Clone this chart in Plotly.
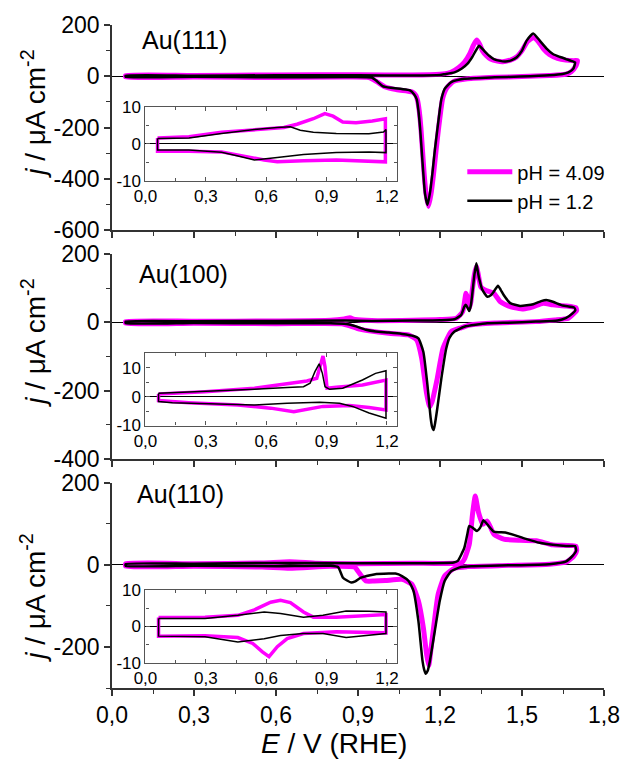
import plotly.graph_objects as go

# ---------------- DATA ----------------
series_names = ["pH = 4.09", "pH = 1.2"]
panel_labels = ["Au(111)", "Au(100)", "Au(110)"]

# Au(111) main CV (E / V, j / uA cm-2)
p1_mag_E = [0.05, 0.3, 0.6, 0.9, 1.1, 1.2, 1.23, 1.253, 1.27, 1.289, 1.31, 1.322, 1.334, 1.345, 1.355, 1.37, 1.385, 1.41, 1.43, 1.46, 1.48, 1.50, 1.52, 1.541, 1.56, 1.58, 1.60, 1.63, 1.66, 1.69, 1.703,
            1.697, 1.68, 1.66, 1.6, 1.5, 1.4, 1.3, 1.25, 1.225, 1.21, 1.203, 1.194, 1.185, 1.176, 1.167, 1.158, 1.149, 1.142, 1.136, 1.130, 1.124, 1.118, 1.112, 1.10, 1.08, 1.04, 1.0, 0.97, 0.94, 0.85, 0.6, 0.3, 0.05, 0.05]
p1_mag_j = [3, 3, 5, 6, 5, 8, 12, 23, 35, 54, 90, 120, 141, 125, 100, 80, 67, 59, 57, 64, 75, 100, 135, 151, 135, 105, 85, 70, 63, 61, 61,
            40, 18, 8, 3, -1, -4, -10, -20, -45, -85, -133, -210, -295, -385, -460, -508, -460, -380, -290, -200, -135, -95, -75, -62, -58, -52, -42, -22, -5, -3, -5, -3, -3, 3]
p1_blk_E = [0.05, 0.3, 0.6, 0.9, 1.1, 1.2, 1.217, 1.253, 1.28, 1.30, 1.318, 1.331, 1.343, 1.361, 1.38, 1.397, 1.42, 1.439, 1.46, 1.481, 1.50, 1.517, 1.541, 1.565, 1.59, 1.613, 1.64, 1.661, 1.68, 1.694,
            1.688, 1.67, 1.649, 1.60, 1.493, 1.40, 1.289, 1.241, 1.217, 1.205, 1.199, 1.19, 1.181, 1.172, 1.163, 1.154, 1.145, 1.139, 1.133, 1.127, 1.121, 1.115, 1.105, 1.09, 1.06, 1.02, 0.99, 0.97, 0.95, 0.85, 0.6, 0.3, 0.05, 0.05]
p1_blk_j = [2, 2, 4, 4, 3, 5, 8, 15, 30, 48, 75, 100, 119, 100, 80, 67, 60, 58, 62, 74, 100, 139, 167, 139, 108, 87, 75, 67, 60, 54,
            30, 15, 9, 4, -1, -4, -10, -23, -49, -90, -133, -210, -289, -380, -457, -502, -457, -380, -289, -200, -133, -90, -70, -55, -50, -45, -38, -20, -5, -3, -4, -2, -2, 2]

# Au(100) main CV
p2_mag_E = [0.05, 0.3, 0.6, 0.8, 0.85, 0.87, 0.89, 0.95, 1.1, 1.2, 1.26, 1.283, 1.295, 1.301, 1.307, 1.313, 1.319, 1.326, 1.333, 1.34, 1.349, 1.36, 1.373, 1.397, 1.421, 1.457, 1.505, 1.54, 1.577, 1.613, 1.661, 1.697,
            1.70, 1.69, 1.67, 1.62, 1.55, 1.4, 1.31, 1.277, 1.241, 1.211, 1.19, 1.171, 1.162, 1.15, 1.133, 1.115, 1.085, 1.013, 0.941, 0.905, 0.87, 0.84, 0.6, 0.3, 0.05, 0.05]
p2_mag_j = [2, 3, 4, 6, 10, 13, 8, 5, 6, 8, 12, 31, 85, 70, 41, 60, 100, 140, 163, 140, 104, 96, 92, 85, 60, 46, 39, 45, 56, 51, 48, 43,
            35, 26, 12, 7, 2, -2, -8, -16, -27, -76, -164, -232, -247, -203, -105, -52, -37, -32, -25, -20, -10, -4, -4, -3, -3, 2]
p2_blk_E = [0.05, 0.3, 0.6, 0.85, 0.95, 1.1, 1.2, 1.253, 1.277, 1.289, 1.295, 1.301, 1.307, 1.313, 1.319, 1.326, 1.333, 1.338, 1.343, 1.355, 1.373, 1.387, 1.397, 1.412, 1.422, 1.433, 1.457, 1.493, 1.541, 1.57, 1.589, 1.613, 1.649, 1.691,
            1.695, 1.685, 1.66, 1.63, 1.55, 1.45, 1.373, 1.289, 1.253, 1.235, 1.223, 1.205, 1.19, 1.182, 1.177, 1.171, 1.166, 1.154, 1.139, 1.121, 1.103, 1.061, 1.013, 0.965, 0.929, 0.893, 0.857, 0.80, 0.6, 0.3, 0.05, 0.05]
p2_blk_j = [2, 3, 4, 5, 4, 5, 6, 9, 21, 46, 51, 42, 33, 50, 90, 140, 173, 150, 129, 95, 75, 80, 90, 107, 95, 80, 56, 48, 53, 62, 65, 60, 49, 43,
            35, 26, 12, 5, 2, -1, -3, -13, -27, -45, -76, -164, -252, -295, -315, -305, -281, -183, -86, -47, -40, -34, -30, -27, -22, -12, -5, -3, -3, -2, -2, 2]

# Au(110) main CV
p3_mag_E = [0.05, 0.3, 0.55, 0.65, 0.75, 0.9, 1.1, 1.28, 1.289, 1.307, 1.319, 1.329, 1.341, 1.357, 1.373, 1.397, 1.433, 1.493, 1.553, 1.613, 1.697,
            1.70, 1.69, 1.665, 1.6, 1.45, 1.3, 1.253, 1.217, 1.193, 1.178, 1.166, 1.159, 1.151, 1.139, 1.121, 1.097, 1.061, 1.0, 0.96, 0.929, 0.905, 0.887, 0.8, 0.65, 0.55, 0.3, 0.05, 0.05]
p3_mag_j = [3, 3, 5, 8, 4, 3, 4, 6, 14, 50, 124, 168, 128, 99, 107, 75, 63, 60, 59, 49, 46,
            35, 22, 8, 2, -1, -4, -8, -27, -72, -145, -210, -246, -218, -153, -88, -47, -35, -38, -39, -39, -20, -5, -3, -8, -5, -3, -3, 3]
p3_blk_E = [0.05, 0.3, 0.6, 0.9, 1.1, 1.25, 1.265, 1.289, 1.30, 1.307, 1.319, 1.335, 1.347, 1.359, 1.373, 1.397, 1.439, 1.481, 1.517, 1.565, 1.613, 1.661, 1.694,
            1.698, 1.685, 1.66, 1.6, 1.45, 1.32, 1.277, 1.241, 1.217, 1.199, 1.181, 1.163, 1.155, 1.148, 1.142, 1.136, 1.121, 1.103, 1.085, 1.061, 1.037, 1.013, 0.959, 0.911, 0.89, 0.875, 0.86, 0.845, 0.827, 0.8, 0.6, 0.3, 0.05, 0.05]
p3_blk_j = [2, 3, 5, 4, 4, 6, 10, 42, 75, 95, 91, 83, 91, 109, 99, 81, 79, 71, 63, 54, 49, 46, 46,
            35, 22, 8, 2, -1, -3, -5, -15, -39, -88, -161, -234, -258, -265, -255, -234, -137, -63, -39, -27, -21, -21, -23, -31, -40, -43, -38, -31, -5, -2, -3, -2, -2, 2]

# Insets (0.05 - 1.2 V)
i1_mag_E = [0.06, 0.216, 0.378, 0.541, 0.688, 0.753, 0.834, 0.891, 0.932, 0.98, 1.046, 1.127, 1.192, 1.192, 1.111, 0.948, 0.785, 0.655, 0.59, 0.46, 0.378, 0.216, 0.06, 0.06]
i1_mag_j = [1.6, 1.9, 3.1, 3.9, 4.4, 5.3, 6.8, 8.2, 7.5, 5.9, 5.7, 6.2, 6.8, -4.9, -4.7, -4.4, -4.6, -4.9, -4.4, -3.1, -2.2, -2.0, -2.0, 1.6]
i1_blk_E = [0.06, 0.216, 0.378, 0.541, 0.655, 0.72, 0.769, 0.834, 0.948, 1.11, 1.183, 1.195, 1.195, 1.111, 0.948, 0.785, 0.655, 0.541, 0.46, 0.378, 0.216, 0.06, 0.06]
i1_blk_j = [1.4, 1.6, 2.8, 3.9, 4.4, 4.6, 3.7, 3.1, 2.8, 2.7, 3.2, 3.9, -2.4, -2.2, -2.4, -2.9, -3.7, -4.4, -3.3, -2.3, -1.7, -1.7, 1.4]

i2_mag_E = [0.065, 0.296, 0.541, 0.704, 0.802, 0.851, 0.869, 0.882, 0.892, 0.902, 0.948, 1.078, 1.195, 1.195, 1.111, 1.013, 0.882, 0.737, 0.622, 0.459, 0.215, 0.065, 0.065]
i2_mag_j = [0.9, 1.7, 2.9, 4.4, 5.4, 6.3, 11.5, 14.0, 10.3, 2.9, 3.2, 4.0, 5.7, -4.6, -3.8, -3.1, -3.4, -5.2, -4.0, -2.9, -2.1, -1.4, 0.9]
i2_blk_E = [0.065, 0.296, 0.541, 0.704, 0.785, 0.818, 0.842, 0.863, 0.879, 0.892, 0.915, 0.98, 1.078, 1.143, 1.195, 1.195, 1.111, 1.029, 0.964, 0.866, 0.704, 0.541, 0.296, 0.134, 0.065, 0.065]
i2_blk_j = [1.1, 1.7, 2.5, 3.1, 3.4, 4.6, 8.6, 11.3, 8.0, 3.4, 2.5, 2.9, 5.7, 8.0, 8.9, -7.5, -5.7, -3.4, -2.3, -2.0, -2.3, -2.9, -2.5, -2.1, -1.7, 1.1]

i3_mag_E = [0.065, 0.296, 0.459, 0.541, 0.622, 0.671, 0.72, 0.785, 0.834, 0.948, 1.195, 1.195, 0.948, 0.785, 0.704, 0.655, 0.614, 0.581, 0.533, 0.459, 0.296, 0.065, 0.065]
i3_mag_j = [2.4, 2.5, 3.0, 4.5, 6.6, 7.1, 6.5, 3.9, 2.5, 2.5, 3.2, -1.8, -1.5, -2.0, -3.4, -5.6, -8.3, -7.0, -4.7, -3.1, -2.6, -2.7, 2.4]
i3_blk_E = [0.065, 0.296, 0.459, 0.59, 0.671, 0.785, 0.882, 0.997, 1.111, 1.195, 1.195, 1.111, 0.997, 0.882, 0.785, 0.671, 0.59, 0.459, 0.296, 0.065, 0.065]
i3_blk_j = [2.1, 2.1, 3.0, 3.9, 3.5, 2.5, 3.0, 4.2, 4.1, 3.9, -2.0, -2.5, -3.1, -2.0, -2.0, -2.5, -3.4, -4.3, -2.9, -2.7, 2.1]

# tick labels
main_x_ticks = [0.0, 0.3, 0.6, 0.9, 1.2, 1.5, 1.8]
inset_x_ticks = [0.0, 0.3, 0.6, 0.9, 1.2]
p1_y_ticks = [200, 0, -200, -400, -600]
p2_y_ticks = [200, 0, -200, -400]
p3_y_ticks = [200, 0, -200]
inset_y_ticks = [10, 0, -10]

# ---------------- FIGURE ----------------
MAG = "#FF00FF"
BLK = "#000000"
FONT = "Arial, Liberation Sans, sans-serif"
AX = "#333333"

fig = go.Figure()

main_sets = [
    (p1_mag_E, p1_mag_j, p1_blk_E, p1_blk_j, "x", "y"),
    (p2_mag_E, p2_mag_j, p2_blk_E, p2_blk_j, "x2", "y2"),
    (p3_mag_E, p3_mag_j, p3_blk_E, p3_blk_j, "x3", "y3"),
]
for k, (mE, mj, bE, bj, xa, ya) in enumerate(main_sets):
    fig.add_trace(go.Scatter(x=mE, y=mj, mode="lines", xaxis=xa, yaxis=ya,
                             line=dict(color=MAG, width=5, shape="spline", smoothing=0.5),
                             name=series_names[0], showlegend=(k == 0)))
    fig.add_trace(go.Scatter(x=bE, y=bj, mode="lines", xaxis=xa, yaxis=ya,
                             line=dict(color=BLK, width=2.5, shape="spline", smoothing=0.5),
                             name=series_names[1], showlegend=(k == 0)))

inset_sets = [
    (i1_mag_E, i1_mag_j, i1_blk_E, i1_blk_j, "x4", "y4"),
    (i2_mag_E, i2_mag_j, i2_blk_E, i2_blk_j, "x5", "y5"),
    (i3_mag_E, i3_mag_j, i3_blk_E, i3_blk_j, "x6", "y6"),
]
for mE, mj, bE, bj, xa, ya in inset_sets:
    fig.add_trace(go.Scatter(x=mE, y=mj, mode="lines", xaxis=xa, yaxis=ya,
                             line=dict(color=MAG, width=3.5), showlegend=False))
    fig.add_trace(go.Scatter(x=bE, y=bj, mode="lines", xaxis=xa, yaxis=ya,
                             line=dict(color=BLK, width=1.5), showlegend=False))

def fmt(v):
    return str(v)

main_dom = [[0.6907, 1.0], [0.3453, 0.6547], [0.0, 0.3093]]
main_yr = [[-600, 200], [-400, 200], [-300, 200]]
main_yt = [p1_y_ticks, p2_y_ticks, p3_y_ticks]

layout = dict(
    width=632, height=759,
    margin=dict(l=112, r=20, t=22, b=71),
    paper_bgcolor="white", plot_bgcolor="white",
    separators=", ",
    font=dict(family=FONT, size=23, color="black"),
    legend=dict(x=0.712, y=0.808, xanchor="left", yanchor="top",
                font=dict(size=20), bgcolor="rgba(0,0,0,0)", itemwidth=45,
                tracegroupgap=0),
)

for i in range(3):
    xs = "xaxis" if i == 0 else f"xaxis{i+1}"
    ys = "yaxis" if i == 0 else f"yaxis{i+1}"
    yr = main_yr[i]
    layout[xs] = dict(domain=[0, 1], anchor="y" if i == 0 else f"y{i+1}",
                      range=[0, 1.8], showgrid=False, zeroline=False,
                      showline=True, linecolor=AX, linewidth=1.5,
                      ticks="outside", ticklen=6, tickwidth=1.5, tickcolor=AX,
                      tickvals=main_x_ticks, tickformat=".1f",
                      showticklabels=(i == 2),
                      minor=dict(tickvals=[0.15, 0.45, 0.75, 1.05, 1.35, 1.65],
                                 ticks="outside", ticklen=4, tickwidth=1.2, tickcolor=AX))
    layout[ys] = dict(domain=main_dom[i], anchor="x" if i == 0 else f"x{i+1}",
                      range=yr, showgrid=False,
                      zeroline=True, zerolinecolor="black", zerolinewidth=1,
                      showline=True, linecolor=AX, linewidth=1.5,
                      ticks="outside", ticklen=6, tickwidth=1.5, tickcolor=AX,
                      tickvals=main_yt[i], ticktext=[fmt(v) for v in main_yt[i]],
                      minor=dict(tickvals=[v for v in range(yr[0], yr[1] + 1, 100) if v % 200 != 0],
                                 ticks="outside", ticklen=4, tickwidth=1.2, tickcolor=AX))

inset_xdom = [0.068, 0.5794]
inset_ydom = [[0.7653, 0.8764], [0.3959, 0.5060], [0.0380, 0.1482]]
inset_yr = [[-10, 10], [-10, 15.2], [-10, 10]]
for k in range(3):
    n = k + 4
    yr = inset_yr[k]
    layout[f"xaxis{n}"] = dict(domain=inset_xdom, anchor=f"y{n}", range=[0, 1.25],
                               showgrid=False, zeroline=False,
                               showline=True, mirror="ticks", linecolor="#555555", linewidth=1.2,
                               ticks="inside", ticklen=4, tickwidth=1, tickcolor="#555555",
                               tickvals=inset_x_ticks, tickformat=".1f",
                               tickfont=dict(size=17),
                               minor=dict(tickvals=[0.15, 0.45, 0.75, 1.05],
                                          ticks="inside", ticklen=3, tickcolor="#555555"))
    layout[f"yaxis{n}"] = dict(domain=inset_ydom[k], anchor=f"x{n}", range=yr,
                               showgrid=False, zeroline=True, zerolinecolor="black", zerolinewidth=1.2,
                               showline=True, mirror="ticks", linecolor="#555555", linewidth=1.2,
                               ticks="inside", ticklen=4, tickwidth=1, tickcolor="#555555",
                               tickvals=inset_y_ticks, ticktext=[fmt(v) for v in inset_y_ticks],
                               tickfont=dict(size=17),
                               minor=dict(tickvals=[v for v in [-5, 5, 15] if v < yr[1]],
                                          ticks="inside", ticklen=3, tickcolor="#555555"))

annots = []
label_pos = [(0.056, 0.9775), (0.050, 0.6246), (0.046, 0.2928)]
for lab, (ax_, ay_) in zip(panel_labels, label_pos):
    annots.append(dict(text=lab, x=ax_, y=ay_, xref="paper", yref="paper",
                       xanchor="left", yanchor="middle", showarrow=False,
                       font=dict(size=25, family=FONT)))
for yc in [0.8649, 0.5195, 0.1351]:
    annots.append(dict(text="<i>j</i> / μA cm<sup>-2</sup>", x=-0.16, y=yc,
                       xref="paper", yref="paper", textangle=-90,
                       xanchor="center", yanchor="middle", showarrow=False,
                       font=dict(size=28, family=FONT)))
annots.append(dict(text="<i>E</i> / V (RHE)", x=0.452, y=-0.083, xref="paper", yref="paper",
                   xanchor="center", yanchor="middle", showarrow=False,
                   font=dict(size=28, family=FONT)))
layout["annotations"] = annots

fig.update_layout(**layout)
fig.write_html("out.html")
